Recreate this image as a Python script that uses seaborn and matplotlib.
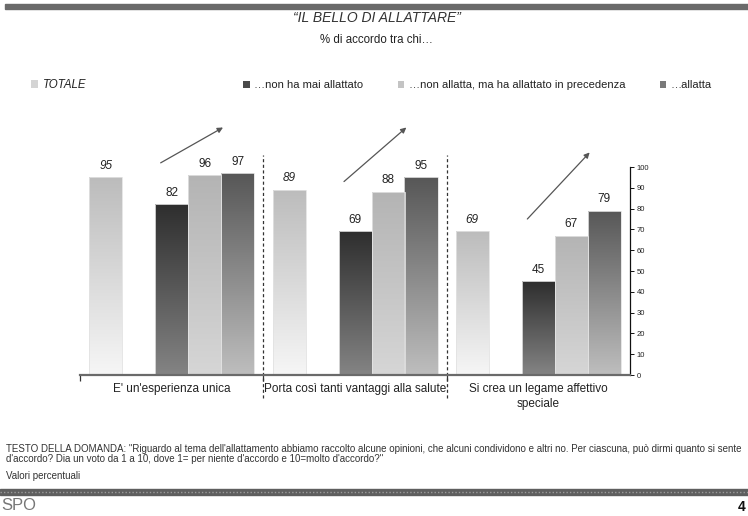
import numpy as np
import pandas as pd
import matplotlib
matplotlib.use("Agg")
import matplotlib.pyplot as plt
import seaborn as sns
from matplotlib.patches import Patch, Rectangle
from matplotlib.lines import Line2D
from matplotlib.colors import LinearSegmentedColormap

# =============================
# DATA
# =============================
CATEGORIES = [
    "E' un'esperienza unica",
    "Porta così tanti vantaggi alla salute",
    "Si crea un legame affettivo\nspeciale",
]
SERIES = [
    "TOTALE",
    "…non ha mai allattato",
    "…non allatta, ma ha allattato in precedenza",
    "…allatta",
]
TOTALE = [95, 89, 69]
NON_HA_MAI = [82, 69, 45]
NON_ALLATTA = [96, 88, 67]
ALLATTA = [97, 95, 79]
Y_TICKS = list(range(0, 101, 10))

TITLE = "“IL BELLO DI ALLATTARE”"
SUBTITLE = "% di accordo tra chi…"
NOTE = ("TESTO DELLA DOMANDA: \"Riguardo al tema dell'allattamento abbiamo raccolto alcune opinioni, "
        "che alcuni condividono e altri no. Per ciascuna, può dirmi quanto si sente\n"
        "d'accordo? Dia un voto da 1 a 10, dove 1= per niente d'accordo e 10=molto d'accordo?\"")
NOTE2 = "Valori percentuali"

# =============================
# STYLE
# =============================
GAP = " "  # empty slot between TOTALE and the other bars
# (top colour, bottom colour) of each bar gradient
GRADIENTS = {
    SERIES[0]: ("#bcbcbc", "#f6f6f6"),
    SERIES[1]: ("#2e2e2e", "#848484"),
    SERIES[2]: ("#b4b4b4", "#d6d6d6"),
    SERIES[3]: ("#575757", "#bebebe"),
}
LEGEND_COLORS = ["#d4d4d4", "#4a4a4a", "#c4c4c4", "#7a7a7a"]
# arrow (start, end) heights per group, just decoration
ARROW_Y = [(102, 119), (93, 119), (75, 107)]

W, H = 748, 516

sns.set_theme(style="white")
plt.rcParams["font.family"] = ["Liberation Sans", "DejaVu Sans"]
TXT = "#222222"

rows = []
for name, vals in zip(SERIES, [TOTALE, NON_HA_MAI, NON_ALLATTA, ALLATTA]):
    for cat, v in zip(CATEGORIES, vals):
        rows.append({"categoria": cat, "gruppo": name, "valore": v})
df = pd.DataFrame(rows)

hue_order = [SERIES[0], GAP] + SERIES[1:]
palette = {k: "#888888" for k in hue_order}

fig = plt.figure(figsize=(W / 100, H / 100), dpi=100)
ax = fig.add_axes([80 / W, (H - 375) / H, 550 / W, 255 / H])

sns.barplot(
    data=df, x="categoria", y="valore", hue="gruppo",
    order=CATEGORIES, hue_order=hue_order, palette=palette,
    width=0.9, errorbar=None, legend=False, ax=ax,
    edgecolor="#e2e2e2", linewidth=0.6,
)

# gradient fill inside each bar (skip the empty gap container)
containers = [c for c in ax.containers if len(c) > 0]
grad = np.linspace(0, 1, 256).reshape(-1, 1)
for name, cont in zip(SERIES, containers):
    top, bottom = GRADIENTS[name]
    cmap = LinearSegmentedColormap.from_list("g", [bottom, top])
    for bar in cont:
        x0, y0 = bar.get_x(), bar.get_y()
        w, h = bar.get_width(), bar.get_height()
        im = ax.imshow(grad, cmap=cmap, origin="lower", aspect="auto",
                       extent=(x0, x0 + w, y0, y0 + h), zorder=bar.get_zorder() - 0.1)
        im.set_clip_path(bar)
        bar.set_facecolor("none")
    ax.bar_label(cont, padding=4, fontsize=8.5, color=TXT,
                 fontstyle="italic" if name == SERIES[0] else "normal")

ax.set_xlim(-0.5, len(CATEGORIES) - 0.5)
ax.set_ylim(0, 122.6)

# arrows showing the trend
for i, (y0, y1) in enumerate(ARROW_Y):
    ax.annotate("", xy=(i + 0.28, y1), xytext=(i - 0.06, y0),
                arrowprops=dict(arrowstyle="-|>", color="#555555", lw=0.9,
                                mutation_scale=8, shrinkA=0, shrinkB=0))

# dashed separators
for i in range(1, len(CATEGORIES)):
    ax.plot([i - 0.5, i - 0.5], [-11, 106], ls=(0, (2.5, 2)), color="#333333",
            lw=0.9, clip_on=False)

# axes
sns.despine(ax=ax, left=True, top=True, right=False)
ax.spines["right"].set_bounds(0, 100)
ax.spines["right"].set_color("#111111")
ax.spines["right"].set_linewidth(0.9)
ax.spines["bottom"].set_color("#6a6a6a")
ax.spines["bottom"].set_linewidth(1.6)
ax.yaxis.tick_right()
ax.set_yticks(Y_TICKS)
ax.tick_params(axis="y", which="major", right=True, length=3, width=0.7,
               color="#111111", labelsize=5.5, labelcolor=TXT, pad=2)
ax.set_xticks(range(len(CATEGORIES)))
ax.set_xticklabels(CATEGORIES, fontsize=8.5, color=TXT, linespacing=1.3)
ax.set_xticks([i - 0.5 for i in range(len(CATEGORIES))], minor=True)
ax.tick_params(axis="x", which="major", length=0, pad=6)
ax.tick_params(axis="x", which="minor", bottom=True, length=4, width=0.9, color="#333333")
ax.set_xlabel("")
ax.set_ylabel("")
ax.grid(False)

# legends
h0 = [Patch(facecolor=LEGEND_COLORS[0], edgecolor="none")]
leg1 = fig.legend(h0, [SERIES[0]], loc="center left",
                  bbox_to_anchor=(21 / W, 1 - 85 / H), frameon=False,
                  handlelength=0.6, handleheight=0.6, handletextpad=0.4,
                  prop={"size": 8.3, "style": "italic"})
for t in leg1.get_texts():
    t.set_color(TXT)
hs = [Patch(facecolor=c, edgecolor="none") for c in LEGEND_COLORS[1:]]
leg2 = fig.legend(hs, SERIES[1:], loc="center left", ncol=3,
                  bbox_to_anchor=(233 / W, 1 - 85 / H), frameon=False,
                  handlelength=0.6, handleheight=0.6, handletextpad=0.4,
                  columnspacing=3.1, prop={"size": 8})
for t in leg2.get_texts():
    t.set_color(TXT)

# titles
fig.text(377 / W, 1 - 18 / H, TITLE, ha="center", va="center", fontsize=10,
         fontstyle="italic", color="#333333")
fig.text(376 / W, 1 - 40 / H, SUBTITLE, ha="center", va="center", fontsize=8.3, color=TXT)

# footnote
fig.text(6 / W, 1 - 444 / H, NOTE, ha="left", va="top", fontsize=7.0,
         color="#333333", linespacing=1.05)
fig.text(6 / W, 1 - 476 / H, NOTE2, ha="left", va="center", fontsize=7.0, color="#333333")

# page decorations
fig.patches.append(Rectangle((5 / W, 1 - 9 / H), (W - 5) / W, 5 / H,
                             transform=fig.transFigure, color="#6a6a6a", zorder=0))
fig.patches.append(Rectangle((0, 1 - 495 / H), 1, 6 / H,
                             transform=fig.transFigure, color="#5e5e5e", zorder=0))
fig.lines.append(Line2D([0, 1], [1 - 492 / H] * 2, transform=fig.transFigure,
                        color="#9a9a9a", lw=1, ls=(0, (1, 1.5))))
fig.text(1 / W, 1 - 506 / H, "SPO", ha="left", va="center", fontsize=12,
         color="#777777", fontweight="light")
fig.text(745 / W, 1 - 507 / H, "4", ha="right", va="center", fontsize=10,
         color="#111111", fontweight="bold")

fig.savefig("out.png", dpi=100)
